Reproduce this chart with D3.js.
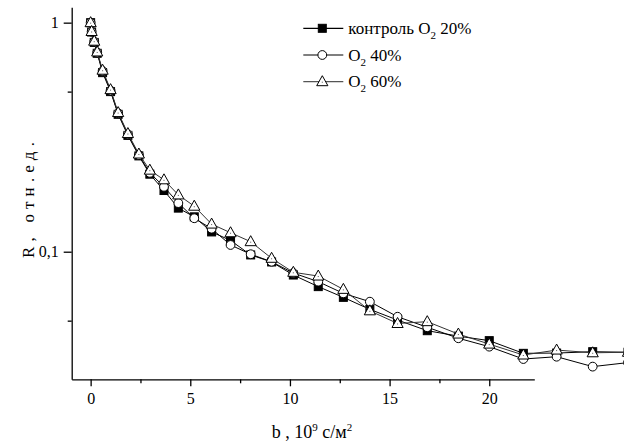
<html>
<head>
<meta charset="utf-8">
<style>
  body { margin: 0; background: white; }
  svg text { font-family: "Liberation Serif", "Times New Roman", "DejaVu Serif", serif !important; fill: black; }
  .axis path, .axis line { stroke: black; stroke-width: 1.3; }
  .axis text { font-size: 16px; }
</style>
<script src="https://cdn.jsdelivr.net/npm/d3@7"></script>
</head>
<body>
<div id="chart"></div>
<script>
// b, 10^9 s/m^2
var bValues = [0, 0.05, 0.18, 0.33, 0.6, 1.0, 1.38, 1.87, 2.42, 2.97, 3.68, 4.4, 5.2, 6.07, 7.02, 8.03,
               9.08, 10.17, 11.42, 12.68, 14.01, 15.4, 16.89, 18.45, 20.0, 21.71, 23.38, 25.19, 26.96];

var control20 = [1.0, 0.91, 0.82, 0.735, 0.605, 0.5, 0.398, 0.322, 0.262, 0.218, 0.185, 0.155, 0.142, 0.122,
                 0.112, 0.0968, 0.0902, 0.0791, 0.0704, 0.0632, 0.056, 0.0503, 0.0452, 0.0428, 0.0409,
                 0.036, 0.0361, 0.0366, 0.0364];
var o2_40 = [1.0, 0.913, 0.826, 0.74, 0.615, 0.505, 0.402, 0.325, 0.264, 0.221, 0.192, 0.163, 0.14, 0.126,
             0.107, 0.0975, 0.0904, 0.0807, 0.074, 0.0658, 0.0605, 0.052, 0.0468, 0.0419, 0.0385,
             0.034, 0.0348, 0.0315, 0.0328];
var o2_60 = [1.0, 0.915, 0.83, 0.745, 0.62, 0.51, 0.405, 0.328, 0.267, 0.227, 0.206, 0.177, 0.158, 0.132,
             0.121, 0.1106, 0.0936, 0.0813, 0.0783, 0.0685, 0.0552, 0.0486, 0.0495, 0.0437, 0.0395,
             0.0354, 0.0372, 0.0362, 0.0364];

var xMajor = [0, 5, 10, 15, 20];
var xMinor = [2.5, 7.5, 12.5, 17.5];
var yMajor = [0.1, 1];
var yMajorLabels = ["0,1", "1"];
var yMinor = [0.05, 0.5];

var seriesNames = ["контроль", "", ""];
var seriesPct = ["20%", "40%", "60%"];

var FONT = "'Liberation Serif', 'Times New Roman', 'DejaVu Serif', serif";

var width = 624, height = 445;
var svg = d3.select("#chart").append("svg")
    .attr("width", width).attr("height", height)
    .attr("font-family", FONT);

var x = d3.scaleLinear().domain([-0.95, 22.26]).range([71.7, 534.3]);
var y = d3.scaleLog().domain([0.02773, 1.167]).range([379.3, 7.3]);

// axes
var gx = svg.append("g").attr("class", "axis")
    .attr("transform", "translate(0,379.3)")
    .call(d3.axisBottom(x).tickValues(xMajor).tickSize(7).tickSizeOuter(0).tickPadding(6)
      .tickFormat(d3.format("d")));
gx.attr("font-family", FONT).attr("font-size", 16);
svg.append("g").attr("class", "axis")
    .attr("transform", "translate(0,379.3)")
    .call(d3.axisBottom(x).tickValues(xMinor).tickSize(4).tickSizeOuter(0).tickFormat(""))
    .select(".domain").remove();

var gy = svg.append("g").attr("class", "axis")
    .attr("transform", "translate(71.7,0)")
    .call(d3.axisLeft(y).tickValues(yMajor).tickSize(8).tickSizeOuter(0).tickPadding(5)
      .tickFormat(function(d, i) { return yMajorLabels[i]; }));
gy.attr("font-family", FONT).attr("font-size", 16);
svg.append("g").attr("class", "axis")
    .attr("transform", "translate(71.7,0)")
    .call(d3.axisLeft(y).tickValues(yMinor).tickSize(4).tickSizeOuter(0).tickFormat(""))
    .select(".domain").remove();

// axis titles
svg.append("text")
    .attr("transform", "translate(34,200) rotate(-90)")
    .attr("text-anchor", "middle")
    .attr("textLength", 116)
    .attr("lengthAdjust", "spacing")
    .style("font-size", "17px")
    .text("R, отн.ед.");

var xt = svg.append("text")
    .attr("x", 312).attr("y", 438)
    .attr("text-anchor", "middle")
    .style("font-size", "18px");
xt.append("tspan").text("b , 10");
xt.append("tspan").attr("dy", -7).style("font-size", "11px").text("9");
xt.append("tspan").attr("dy", 7).text(" с/м");
xt.append("tspan").attr("dy", -7).style("font-size", "11px").text("2");

// markers
function drawMarker(g, type, cx, cy) {
  if (type === "square") {
    g.append("rect").attr("x", cx - 4).attr("y", cy - 4).attr("width", 8).attr("height", 8)
      .attr("fill", "black").attr("stroke", "black").attr("stroke-width", 1);
  } else if (type === "circle") {
    g.append("circle").attr("cx", cx).attr("cy", cy).attr("r", 4.4)
      .attr("fill", "white").attr("stroke", "black").attr("stroke-width", 1);
  } else {
    g.append("path")
      .attr("d", "M" + cx + "," + (cy - 6) + "L" + (cx + 5.6) + "," + (cy + 4) + "L" + (cx - 5.6) + "," + (cy + 4) + "Z")
      .attr("fill", "white").attr("stroke", "black").attr("stroke-width", 1);
    g.append("rect").attr("x", cx - 0.5).attr("y", cy).attr("width", 1).attr("height", 1)
      .attr("fill", "#555");
  }
}

var series = [
  { values: control20, type: "square", lineColor: "black" },
  { values: o2_40, type: "circle", lineColor: "black" },
  { values: o2_60, type: "triangle", lineColor: "#333" }
];

var line = d3.line()
    .x(function(d) { return x(d[0]); })
    .y(function(d) { return y(d[1]); });

series.forEach(function(s) {
  var pts = bValues.map(function(b, i) { return [b, s.values[i]]; });
  var g = svg.append("g");
  g.append("path").datum(pts).attr("d", line)
    .attr("fill", "none").attr("stroke", s.lineColor).attr("stroke-width", 1);
  pts.forEach(function(p) { drawMarker(g, s.type, x(p[0]), y(p[1])); });
});

// legend
var legendY = [28.3, 55, 81.7];
series.forEach(function(s, i) {
  var g = svg.append("g");
  g.append("line").attr("x1", 303.3).attr("x2", 343.3)
    .attr("y1", legendY[i]).attr("y2", legendY[i])
    .attr("stroke", i === 2 ? "#555" : "black").attr("stroke-width", 1.2);
  drawMarker(g, s.type, 322.3, legendY[i]);
  var t = g.append("text").attr("x", 348.3).attr("y", legendY[i] + 5.5)
    .style("font-size", "17px");
  t.append("tspan").text((seriesNames[i] ? seriesNames[i] + " " : "") + "O");
  t.append("tspan").attr("dy", 5).style("font-size", "11px").text("2");
  t.append("tspan").attr("dy", -5).text(" " + seriesPct[i]);
});
</script>
</body>
</html>
